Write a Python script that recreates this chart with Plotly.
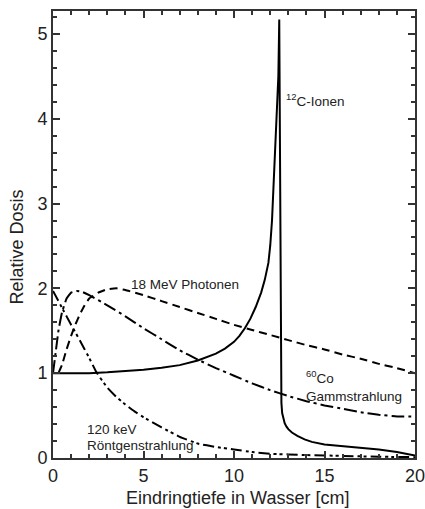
import plotly.graph_objects as go

# Data
carbon_x = [0, 2, 3, 4, 5, 6, 7, 8, 9, 9.5, 10, 10.3, 10.6, 10.9, 11.2, 11.5, 11.7, 11.9, 12.0, 12.1, 12.2, 12.3,
            12.4, 12.45, 12.5, 12.55, 12.58, 12.6, 12.62, 12.66, 12.72, 12.8, 12.9, 13.0, 13.2, 13.5, 13.9, 14.3,
            15, 16, 17, 18, 19, 20]
carbon_y = [1.0, 1.0, 1.01, 1.025, 1.04, 1.065, 1.095, 1.15, 1.23, 1.29, 1.37, 1.44, 1.53, 1.64, 1.78, 1.95, 2.1,
            2.3, 2.5, 2.8, 3.25, 3.7, 4.1, 4.5, 5.17, 3.5, 2.0, 0.9, 0.65, 0.53, 0.46, 0.41, 0.37, 0.34, 0.3,
            0.26, 0.22, 0.19, 0.16, 0.14, 0.12, 0.1, 0.07, 0.03]

photon_x = [0.3, 0.5, 0.75, 1.0, 1.25, 1.5, 1.75, 2.0, 2.5, 3.0, 3.5, 4, 5, 6, 7, 8, 9, 10, 11, 12, 13, 14, 15, 16,
            17, 18, 19, 20]
photon_y = [1.0, 1.1, 1.28, 1.44, 1.58, 1.7, 1.8, 1.88, 1.95, 1.99, 2.0, 1.98, 1.92, 1.85, 1.78, 1.71, 1.64, 1.57,
            1.51, 1.45, 1.39, 1.33, 1.28, 1.22, 1.17, 1.11, 1.06, 1.0]

cobalt_x = [0, 0.15, 0.3, 0.5, 0.75, 1.0, 1.3, 1.6, 2, 3, 4, 5, 6, 7, 8, 9, 10, 11, 12, 13, 14, 15, 16, 17, 18, 19, 20]
cobalt_y = [1.0, 1.25, 1.5, 1.72, 1.88, 1.95, 1.97, 1.96, 1.92, 1.8, 1.67, 1.53, 1.4, 1.27, 1.16, 1.06, 0.97, 0.88,
            0.8, 0.73, 0.67, 0.62, 0.58, 0.54, 0.51, 0.49, 0.49]

xray_x = [0, 0.5, 1, 1.5, 2, 2.4, 3, 3.5, 4, 4.5, 5, 6, 7, 8, 9, 10, 11, 12, 14, 16, 18, 20]
xray_y = [1.97, 1.77, 1.57, 1.38, 1.18, 1.01, 0.83, 0.72, 0.63, 0.55, 0.48, 0.36, 0.25, 0.17, 0.13, 0.1, 0.07, 0.05,
          0.035, 0.025, 0.015, 0.01]

x_ticks = [0, 5, 10, 15, 20]
y_ticks = [0, 1, 2, 3, 4, 5]

FONT = "Liberation Sans, Arial, sans-serif"
AXC = "#333333"
TXT = "#222222"

fig = go.Figure()
fig.add_trace(go.Scatter(x=xray_x, y=xray_y, mode="lines",
                         line=dict(color="black", width=2, dash="11px,4px,3px,3px,3px,4px", shape="spline", smoothing=0.3)))
fig.add_trace(go.Scatter(x=cobalt_x, y=cobalt_y, mode="lines",
                         line=dict(color="black", width=2, dash="13px,4px,3px,4px", shape="spline", smoothing=0.3)))
fig.add_trace(go.Scatter(x=photon_x, y=photon_y, mode="lines",
                         line=dict(color="black", width=2, dash="8px,5px", shape="spline", smoothing=0.3)))
fig.add_trace(go.Scatter(x=carbon_x, y=carbon_y, mode="lines", line=dict(color="black", width=2)))

ann_font = dict(family=FONT, size=13.5, color=TXT)
fig.add_annotation(x=12.75, y=4.22, text="<sup>12</sup>C-Ionen", showarrow=False, xanchor="left", yanchor="middle", font=ann_font)
fig.add_annotation(x=4.2, y=2.04, text="18 MeV Photonen", showarrow=False, xanchor="left", yanchor="middle", font=ann_font)
fig.add_annotation(x=13.85, y=0.95, text="<sup>60</sup>Co", showarrow=False, xanchor="left", yanchor="middle", font=ann_font)
fig.add_annotation(x=13.85, y=0.72, text="Gammstrahlung", showarrow=False, xanchor="left", yanchor="middle", font=ann_font)
fig.add_annotation(x=1.75, y=0.34, text="120 keV", showarrow=False, xanchor="left", yanchor="middle", font=ann_font)
fig.add_annotation(x=1.75, y=0.15, text="Röntgenstrahlung", showarrow=False, xanchor="left", yanchor="middle", font=ann_font)

title_font = dict(family=FONT, size=18, color=TXT)
fig.add_annotation(xref="paper", yref="paper", x=0, y=0.472, xshift=-35.5, xanchor="center", yanchor="middle",
                   text="Relative Dosis", textangle=-90, showarrow=False, font=title_font)
fig.add_annotation(xref="paper", yref="paper", x=0.51, y=0, yshift=-40, xanchor="center", yanchor="middle",
                   text="Eindringtiefe in Wasser [cm]", showarrow=False, font=title_font)

axis_common = dict(
    showgrid=False, zeroline=False, showline=True, linecolor=AXC, linewidth=2, mirror="ticks",
    ticks="inside", ticklen=7, tickwidth=1.5, tickcolor=AXC, automargin=False, ticklabeloverflow="allow",
    tickfont=dict(family=FONT, size=18, color=TXT),
)
fig.update_xaxes(range=[0, 20], tickvals=x_ticks, ticktext=[str(v) for v in x_ticks],
                 minor=dict(dtick=1, ticks="inside", ticklen=4, tickwidth=1.5, tickcolor=AXC),
                 **axis_common)
fig.update_yaxes(range=[0, 5.27], tickvals=y_ticks, ticktext=[str(v) for v in y_ticks],
                 minor=dict(dtick=0.2, ticks="inside", ticklen=4, tickwidth=1.5, tickcolor=AXC),
                 **axis_common)

fig.update_layout(
    width=425, height=509, showlegend=False,
    margin=dict(l=53, r=10, t=11, b=51),
    paper_bgcolor="white", plot_bgcolor="white",
)
fig.write_html("out.html", config={"displayModeBar": False},
               post_script="document.body.style.margin='0';document.body.style.padding='0';")
